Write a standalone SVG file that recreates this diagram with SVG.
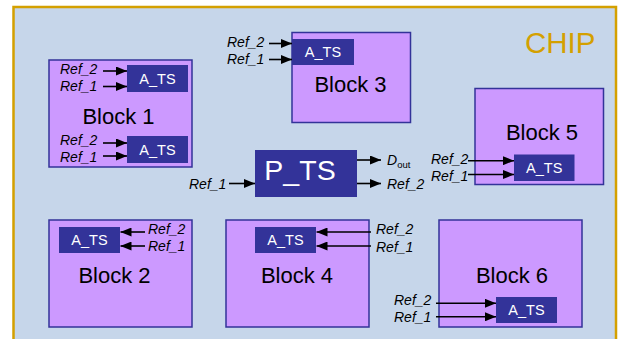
<svg xmlns="http://www.w3.org/2000/svg" width="619" height="339" viewBox="0 0 619 339">
<defs>
<marker id="ah" markerUnits="userSpaceOnUse" markerWidth="11" markerHeight="9" refX="11" refY="4.5" orient="auto">
<path d="M0,0 L11,4.5 L0,9 z" fill="#000"/>
</marker>
<style>
.blk{fill:#CC99FF;stroke:#333399;stroke-width:1.5}
.ats{fill:#333399}
.atsT{font-family:"Liberation Sans",Arial,sans-serif;font-size:14.5px;fill:#fff;text-anchor:middle}
.bT{font-family:"Liberation Sans",Arial,sans-serif;font-size:22px;fill:#000;text-anchor:middle}
.ref{font-family:"Liberation Sans",Arial,sans-serif;font-size:14px;font-style:italic;fill:#000}
.c{stroke:#000;stroke-width:1.6;fill:none;marker-end:url(#ah)}
</style>
</defs>
<rect x="0" y="0" width="619" height="339" fill="#fff"/>
<g id="chip">
<rect x="13.5" y="7" width="602.5" height="340" fill="#C6D6EA" stroke="#D4A000" stroke-width="2.5"/>
<text x="525" y="52.5" font-family="Liberation Sans, Arial, sans-serif" font-size="29.5" fill="#D4A000">CHIP</text>
</g>
<g id="block1">
<rect class="blk" x="49" y="60" width="143" height="107"/>
<rect class="ats" x="127" y="65" width="61" height="27"/>
<text class="atsT" x="157.5" y="83.5">A_TS</text>
<rect class="ats" x="127" y="136" width="61" height="27"/>
<text class="atsT" x="157.5" y="154.5">A_TS</text>
<text class="bT" x="118.5" y="124">Block 1</text>
<text class="ref" x="60" y="73.5">Ref_2</text>
<text class="ref" x="60" y="90.5">Ref_1</text>
<text class="ref" x="60" y="145">Ref_2</text>
<text class="ref" x="60" y="162">Ref_1</text>
</g>
<g id="block3">
<rect class="blk" x="292" y="32.5" width="118.5" height="90"/>
<rect class="ats" x="292" y="39" width="62" height="26"/>
<text class="atsT" x="323" y="57">A_TS</text>
<text class="bT" x="350.5" y="91.5">Block 3</text>
<text class="ref" x="227" y="46.5">Ref_2</text>
<text class="ref" x="227" y="64">Ref_1</text>
</g>
<g id="block5">
<rect class="blk" x="475" y="88.5" width="128.5" height="96"/>
<rect class="ats" x="514" y="154.5" width="60.5" height="26.5"/>
<text class="atsT" x="544.25" y="173">A_TS</text>
<text class="bT" x="542" y="140">Block 5</text>
<text class="ref" x="431" y="164">Ref_2</text>
<text class="ref" x="431" y="180.5">Ref_1</text>
</g>
<g id="pts">
<rect x="255" y="150" width="102" height="47" fill="#333399"/>
<text x="300" y="180" font-family="Liberation Sans, Arial, sans-serif" font-size="28.5" fill="#fff" text-anchor="middle">P_TS</text>
<text class="ref" x="189" y="189">Ref_1</text>
<text x="387" y="164.5" font-family="Liberation Sans, Arial, sans-serif" font-size="14" font-style="italic">D<tspan font-style="normal" font-size="9.5" dy="3">out</tspan></text>
<text class="ref" x="387" y="189">Ref_2</text>
</g>
<g id="block2">
<rect class="blk" x="49" y="220" width="143" height="107"/>
<rect class="ats" x="59" y="227" width="61" height="26"/>
<text class="atsT" x="89.5" y="245">A_TS</text>
<text class="bT" x="114.5" y="283">Block 2</text>
<text class="ref" x="148" y="234">Ref_2</text>
<text class="ref" x="148" y="251">Ref_1</text>
</g>
<g id="block4">
<rect class="blk" x="226" y="220" width="143" height="107"/>
<rect class="ats" x="255" y="227" width="61" height="26"/>
<text class="atsT" x="285.5" y="245">A_TS</text>
<text class="bT" x="297" y="283">Block 4</text>
<text class="ref" x="376" y="234">Ref_2</text>
<text class="ref" x="376" y="251.5">Ref_1</text>
</g>
<g id="block6">
<rect class="blk" x="439" y="220" width="143" height="107"/>
<rect class="ats" x="496" y="297" width="61" height="26"/>
<text class="atsT" x="526.5" y="315">A_TS</text>
<text class="bT" x="512" y="283">Block 6</text>
<text class="ref" x="394" y="304.5">Ref_2</text>
<text class="ref" x="394" y="322">Ref_1</text>
</g>
<g id="connectors">
<line class="c" x1="103" y1="71" x2="127" y2="71"/>
<line class="c" x1="103" y1="86.5" x2="127" y2="86.5"/>
<line class="c" x1="103" y1="143" x2="127" y2="143"/>
<line class="c" x1="103" y1="156" x2="127" y2="156"/>
<line class="c" x1="269" y1="43.5" x2="292" y2="43.5"/>
<line class="c" x1="269" y1="59.5" x2="292" y2="59.5"/>
<line class="c" x1="468" y1="160.7" x2="514" y2="160.7"/>
<line class="c" x1="468" y1="174.5" x2="514" y2="174.5"/>
<line class="c" x1="229" y1="183.5" x2="255" y2="183.5"/>
<line class="c" x1="357" y1="160" x2="381" y2="160"/>
<line class="c" x1="357" y1="183.5" x2="381" y2="183.5"/>
<line class="c" x1="145" y1="232" x2="120.5" y2="232"/>
<line class="c" x1="145" y1="246" x2="120.5" y2="246"/>
<line class="c" x1="371" y1="232" x2="316.5" y2="232"/>
<line class="c" x1="371" y1="246" x2="316.5" y2="246"/>
<line class="c" x1="436" y1="303.3" x2="496" y2="303.3"/>
<line class="c" x1="436" y1="316.8" x2="496" y2="316.8"/>
</g>
</svg>
